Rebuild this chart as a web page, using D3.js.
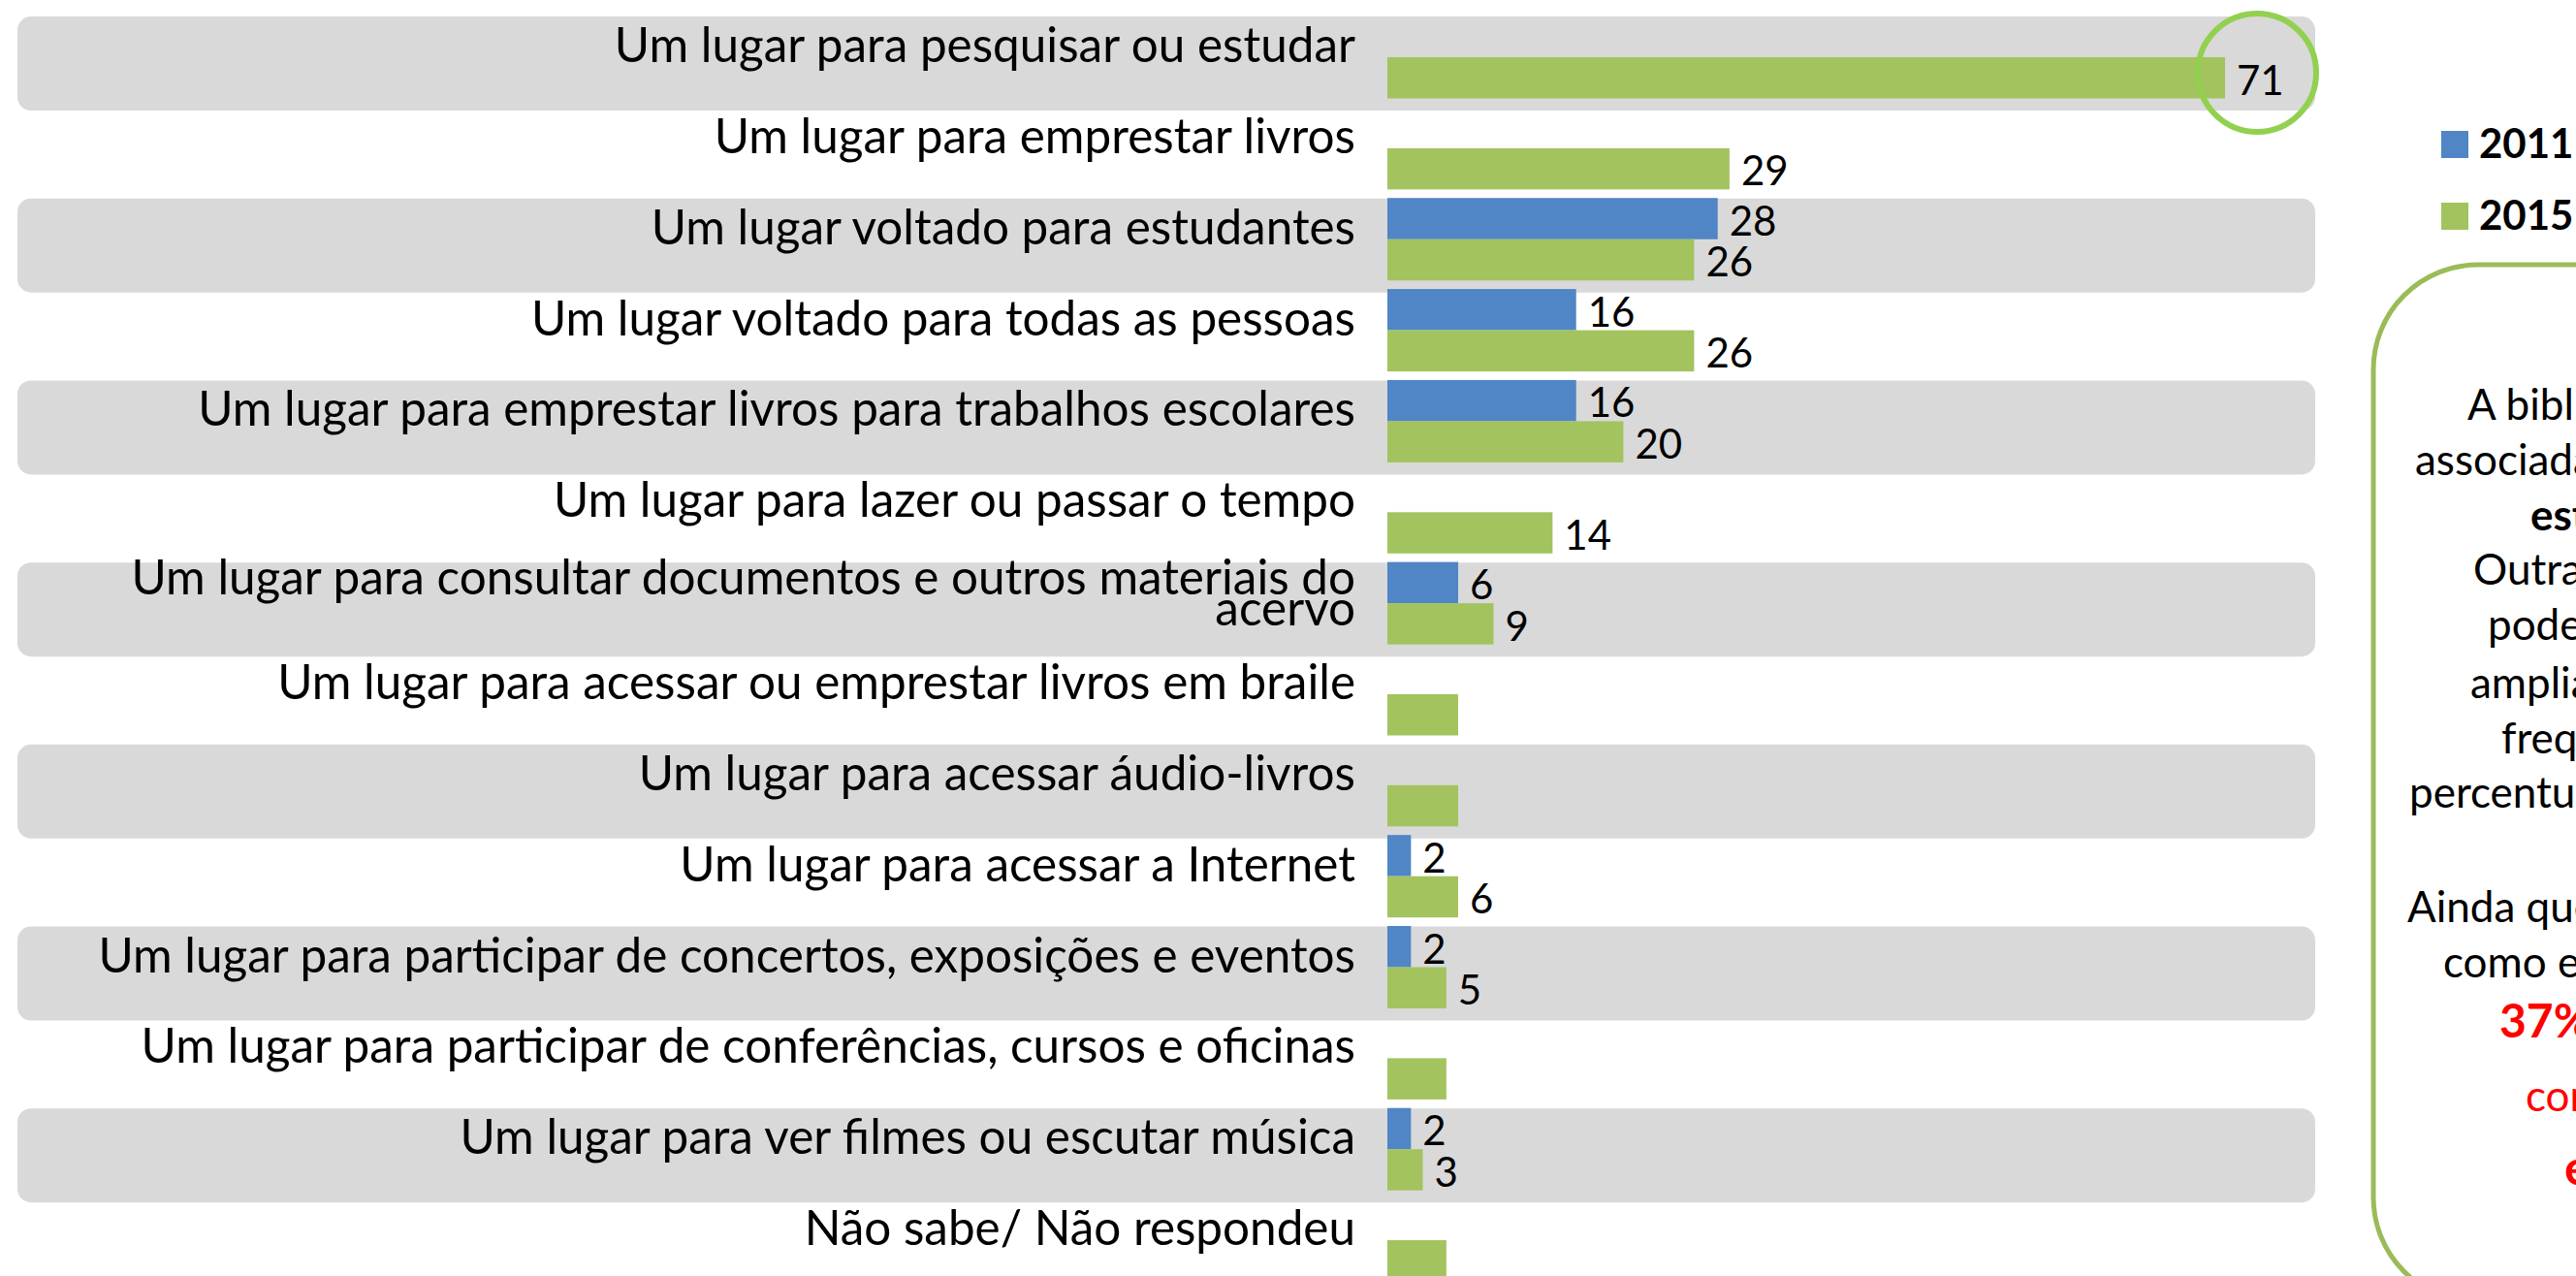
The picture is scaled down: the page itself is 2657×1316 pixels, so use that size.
<!DOCTYPE html>
<html>
<head>
<meta charset="utf-8">
<script src="https://cdn.jsdelivr.net/npm/d3@7"></script>
<style>
  html, body { margin: 0; padding: 0; background: #fff; overflow: hidden; }
  text { font-family: Lato, "Open Sans", sans-serif; fill: #000; }
</style>
</head>
<body>
<div class="chart"></div>
<script>
const width = 2657;
const height = 1316;

const categories = [
  'Um lugar para pesquisar ou estudar',
  'Um lugar para emprestar livros',
  'Um lugar voltado para estudantes',
  'Um lugar voltado para todas as pessoas',
  'Um lugar para emprestar livros para trabalhos escolares',
  'Um lugar para lazer ou passar o tempo',
  'Um lugar para consultar documentos e outros materiais do acervo',
  'Um lugar para acessar ou emprestar livros em braile',
  'Um lugar para acessar áudio-livros',
  'Um lugar para acessar a Internet',
  'Um lugar para participar de concertos, exposições e eventos',
  'Um lugar para participar de conferências, cursos e oficinas',
  'Um lugar para ver filmes ou escutar música',
  'Não sabe/ Não respondeu'
];
const years = ['2011', '2015'];
const values2011 = [null, null, 28, 16, 16, null, 6, null, null, 2, 2, null, 2, null];
const values2015 = [71, 29, 26, 26, 20, 14, 9, 6, 6, 6, 5, 5, 3, 5];
// these rows carry no data label in the source slide
const unlabeled = [
  'Um lugar para acessar ou emprestar livros em braile',
  'Um lugar para acessar áudio-livros',
  'Um lugar para participar de conferências, cursos e oficinas',
  'Não sabe/ Não respondeu'
];

const noteLines = [
  { t: 'A biblioteca ainda é fortemente', x: 2545, y: 433 },
  { t: 'associada a um lugar para', x: 2491, y: 490 },
  { t: 'estudar.', x: 2610, y: 547, bold: true },
  { t: 'Outras funções', x: 2551, y: 603 },
  { t: 'poderiam ser', x: 2566, y: 660 },
  { t: 'ampliadas para', x: 2548, y: 720 },
  { t: 'frequentadores', x: 2580, y: 777 },
  { t: 'percentuais', x: 2485, y: 833 },
  { t: 'Ainda que', x: 2483, y: 951 },
  { t: 'como espaço', x: 2520, y: 1008 },
  { t: '37%', x: 2578, y: 1070, bold: true, red: true, size: 48 },
  { t: 'consideram', x: 2605, y: 1146, red: true },
  { t: 'em destaque', x: 2645, y: 1222, bold: true, red: true, size: 50 }
];

const colors = { '2011': '#5085C6', '2015': '#A2C35E' };

const svg = d3.select('.chart').append('svg')
  .attr('width', width)
  .attr('height', height)

const x = d3.scaleLinear()
  .domain([0, 71])
  .range([1431, 2295])

const y = d3.scaleBand()
  .domain(categories)
  .range([12.1, 12.1 + 93.85 * categories.length])

const ySub = d3.scaleBand()
  .domain(years)
  .range([-42.5, 42.5])

const center = c => y(c) + y.bandwidth() / 2;

// grey stripes behind every other row
svg.selectAll('.stripe')
  .data(categories.filter((c, i) => i % 2 === 0))
  .enter()
  .append('rect')
  .attr('class', 'stripe')
  .attr('x', 18)
  .attr('width', 2388 - 18)
  .attr('y', d => center(d) - 42)
  .attr('height', 97)
  .attr('rx', 14)
  .style('fill', '#D9D9D9')

const rows = categories.map((c, i) => ({ cat: c, '2011': values2011[i], '2015': values2015[i] }));

const bars = [];
rows.forEach(r => years.forEach(yr => {
  if (r[yr] != null) bars.push({ cat: r.cat, year: yr, value: r[yr] });
}));

svg.selectAll('.bar')
  .data(bars)
  .enter()
  .append('rect')
  .attr('class', 'bar')
  .attr('x', x(0))
  .attr('width', d => x(d.value) - x(0))
  .attr('y', d => center(d.cat) + ySub(d.year))
  .attr('height', ySub.bandwidth())
  .style('fill', d => colors[d.year])

svg.selectAll('.val')
  .data(bars.filter(d => !(d.year === '2015' && unlabeled.includes(d.cat))))
  .enter()
  .append('text')
  .attr('class', 'val')
  .attr('x', d => x(d.value) + 12)
  .attr('y', d => center(d.cat) + ySub(d.year) + ySub.bandwidth() - 4)
  .style('font-size', '42px')
  .text(d => d.value)

// category labels, sized so the longest single line fits like the source
const labels = svg.append('g');
const probe = labels.append('text').style('font-size', '44px').text(categories[10]);
const fs = 44 * 1297 / probe.node().getComputedTextLength();
probe.remove();
const maxW = 1310;

categories.forEach(c => {
  const t = labels.append('text')
    .attr('text-anchor', 'end')
    .style('font-size', fs + 'px');
  const words = c.split(' ');
  let line = [];
  let lines = [];
  const tmp = t.append('tspan');
  words.forEach(w => {
    tmp.text([...line, w].join(' '));
    if (tmp.node().getComputedTextLength() > maxW && line.length) {
      lines.push(line.join(' '));
      line = [w];
    } else {
      line.push(w);
    }
  });
  lines.push(line.join(' '));
  tmp.remove();
  const offs = lines.length === 1 ? [5] : [-9, 23];
  lines.forEach((l, i) => {
    t.append('tspan')
      .attr('x', 1398)
      .attr('y', center(c) + offs[i])
      .text(l)
  });
});

// highlight circle round the top value
svg.append('circle')
  .attr('cx', x(values2015[0]) + 33)
  .attr('cy', center(categories[0]) + 16)
  .attr('r', 61)
  .style('fill', 'none')
  .style('stroke', '#92D050')
  .style('stroke-width', 6)

// legend
const legend = svg.append('g');
years.forEach((yr, i) => {
  legend.append('rect')
    .attr('x', 2518)
    .attr('y', 135 + i * 74)
    .attr('width', 28)
    .attr('height', 28)
    .style('fill', colors[yr])
  legend.append('text')
    .attr('x', 2557)
    .attr('y', 163 + i * 74)
    .style('font-size', '42px')
    .style('font-weight', 'bold')
    .text(yr)
});

// note box
svg.append('rect')
  .attr('x', 2448)
  .attr('y', 273)
  .attr('width', 700)
  .attr('height', 1070)
  .attr('rx', 108)
  .style('fill', 'none')
  .style('stroke', '#9BBB59')
  .style('stroke-width', 5)

svg.selectAll('.note')
  .data(noteLines)
  .enter()
  .append('text')
  .attr('class', 'note')
  .attr('x', d => d.x)
  .attr('y', d => d.y)
  .style('font-size', d => (d.size || 44) + 'px')
  .style('font-weight', d => d.bold ? 'bold' : 'normal')
  .style('fill', d => d.red ? '#FF0000' : '#000')
  .text(d => d.t)
</script>
</body>
</html>
